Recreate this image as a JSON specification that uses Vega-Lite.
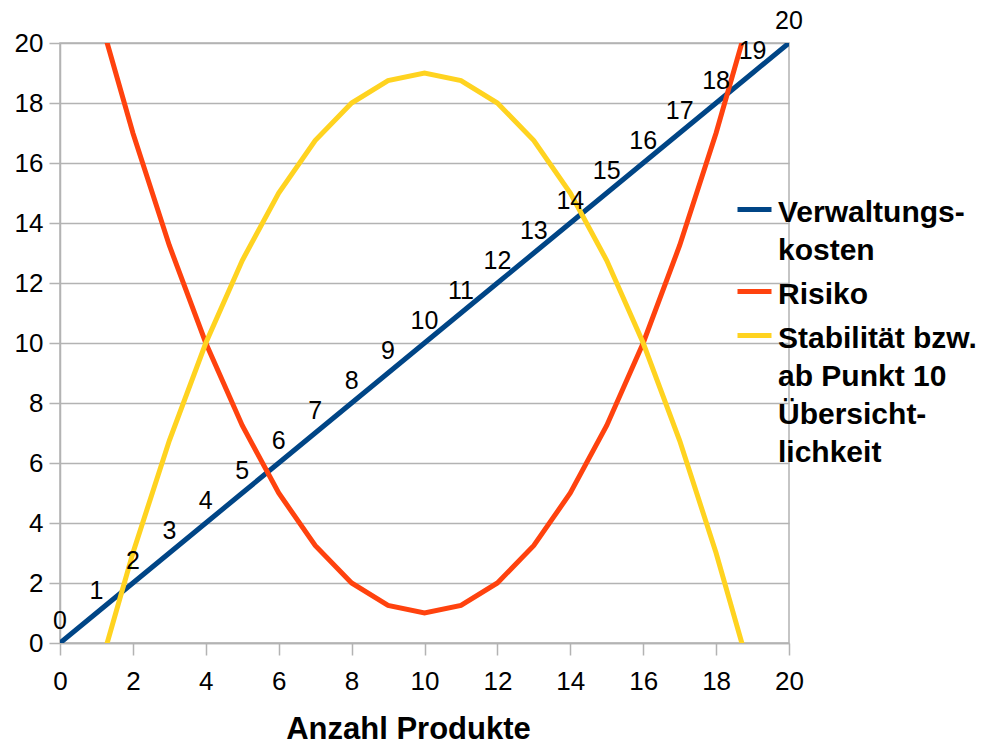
{
  "$schema": "https://vega.github.io/schema/vega-lite/v6.json",
  "width": 729,
  "height": 600,
  "autosize": {"type": "none"},
  "padding": {"left": 60, "top": 43, "right": 211, "bottom": 103},
  "background": "white",
  "config": {
    "font": "Liberation Sans",
    "view": {"stroke": "#b3b3b3", "strokeWidth": 1.5},
    "style": {"guide-label": {"lineHeight": 38}}
  },
  "data": {
    "values": [
      {"x": 0, "y": 0, "s": "Verwaltungs-|kosten"},
      {"x": 1, "y": 1, "s": "Verwaltungs-|kosten"},
      {"x": 2, "y": 2, "s": "Verwaltungs-|kosten"},
      {"x": 3, "y": 3, "s": "Verwaltungs-|kosten"},
      {"x": 4, "y": 4, "s": "Verwaltungs-|kosten"},
      {"x": 5, "y": 5, "s": "Verwaltungs-|kosten"},
      {"x": 6, "y": 6, "s": "Verwaltungs-|kosten"},
      {"x": 7, "y": 7, "s": "Verwaltungs-|kosten"},
      {"x": 8, "y": 8, "s": "Verwaltungs-|kosten"},
      {"x": 9, "y": 9, "s": "Verwaltungs-|kosten"},
      {"x": 10, "y": 10, "s": "Verwaltungs-|kosten"},
      {"x": 11, "y": 11, "s": "Verwaltungs-|kosten"},
      {"x": 12, "y": 12, "s": "Verwaltungs-|kosten"},
      {"x": 13, "y": 13, "s": "Verwaltungs-|kosten"},
      {"x": 14, "y": 14, "s": "Verwaltungs-|kosten"},
      {"x": 15, "y": 15, "s": "Verwaltungs-|kosten"},
      {"x": 16, "y": 16, "s": "Verwaltungs-|kosten"},
      {"x": 17, "y": 17, "s": "Verwaltungs-|kosten"},
      {"x": 18, "y": 18, "s": "Verwaltungs-|kosten"},
      {"x": 19, "y": 19, "s": "Verwaltungs-|kosten"},
      {"x": 20, "y": 20, "s": "Verwaltungs-|kosten"},
      {"x": 1, "y": 21.25, "s": "Risiko"},
      {"x": 2, "y": 17, "s": "Risiko"},
      {"x": 3, "y": 13.25, "s": "Risiko"},
      {"x": 4, "y": 10, "s": "Risiko"},
      {"x": 5, "y": 7.25, "s": "Risiko"},
      {"x": 6, "y": 5, "s": "Risiko"},
      {"x": 7, "y": 3.25, "s": "Risiko"},
      {"x": 8, "y": 2, "s": "Risiko"},
      {"x": 9, "y": 1.25, "s": "Risiko"},
      {"x": 10, "y": 1, "s": "Risiko"},
      {"x": 11, "y": 1.25, "s": "Risiko"},
      {"x": 12, "y": 2, "s": "Risiko"},
      {"x": 13, "y": 3.25, "s": "Risiko"},
      {"x": 14, "y": 5, "s": "Risiko"},
      {"x": 15, "y": 7.25, "s": "Risiko"},
      {"x": 16, "y": 10, "s": "Risiko"},
      {"x": 17, "y": 13.25, "s": "Risiko"},
      {"x": 18, "y": 17, "s": "Risiko"},
      {"x": 19, "y": 21.25, "s": "Risiko"},
      {"x": 1, "y": -1.25, "s": "Stabilität bzw.|ab Punkt 10|Übersicht-|lichkeit"},
      {"x": 2, "y": 3, "s": "Stabilität bzw.|ab Punkt 10|Übersicht-|lichkeit"},
      {"x": 3, "y": 6.75, "s": "Stabilität bzw.|ab Punkt 10|Übersicht-|lichkeit"},
      {"x": 4, "y": 10, "s": "Stabilität bzw.|ab Punkt 10|Übersicht-|lichkeit"},
      {"x": 5, "y": 12.75, "s": "Stabilität bzw.|ab Punkt 10|Übersicht-|lichkeit"},
      {"x": 6, "y": 15, "s": "Stabilität bzw.|ab Punkt 10|Übersicht-|lichkeit"},
      {"x": 7, "y": 16.75, "s": "Stabilität bzw.|ab Punkt 10|Übersicht-|lichkeit"},
      {"x": 8, "y": 18, "s": "Stabilität bzw.|ab Punkt 10|Übersicht-|lichkeit"},
      {"x": 9, "y": 18.75, "s": "Stabilität bzw.|ab Punkt 10|Übersicht-|lichkeit"},
      {"x": 10, "y": 19, "s": "Stabilität bzw.|ab Punkt 10|Übersicht-|lichkeit"},
      {"x": 11, "y": 18.75, "s": "Stabilität bzw.|ab Punkt 10|Übersicht-|lichkeit"},
      {"x": 12, "y": 18, "s": "Stabilität bzw.|ab Punkt 10|Übersicht-|lichkeit"},
      {"x": 13, "y": 16.75, "s": "Stabilität bzw.|ab Punkt 10|Übersicht-|lichkeit"},
      {"x": 14, "y": 15, "s": "Stabilität bzw.|ab Punkt 10|Übersicht-|lichkeit"},
      {"x": 15, "y": 12.75, "s": "Stabilität bzw.|ab Punkt 10|Übersicht-|lichkeit"},
      {"x": 16, "y": 10, "s": "Stabilität bzw.|ab Punkt 10|Übersicht-|lichkeit"},
      {"x": 17, "y": 6.75, "s": "Stabilität bzw.|ab Punkt 10|Übersicht-|lichkeit"},
      {"x": 18, "y": 3, "s": "Stabilität bzw.|ab Punkt 10|Übersicht-|lichkeit"},
      {"x": 19, "y": -1.25, "s": "Stabilität bzw.|ab Punkt 10|Übersicht-|lichkeit"}
    ]
  },
  "encoding": {
    "x": {
      "field": "x", "type": "quantitative",
      "scale": {"domain": [0, 20], "nice": false, "zero": false},
      "axis": {
        "values": [0, 2, 4, 6, 8, 10, 12, 14, 16, 18, 20],
        "title": "Anzahl Produkte",
        "titleFont": "Liberation Sans", "titleFontSize": 31, "titleFontWeight": "bold", "titleColor": "black",
        "titlePadding": 20, "titleX": 348,
        "labelFontSize": 26, "labelColor": "black", "labelPadding": 13, "labelFlush": false,
        "tickSize": 12, "tickColor": "#b3b3b3", "tickWidth": 1.5,
        "domainColor": "#b3b3b3", "domainWidth": 1.5,
        "grid": false
      }
    },
    "y": {
      "field": "y", "type": "quantitative",
      "scale": {"domain": [0, 20], "nice": false, "zero": false},
      "axis": {
        "values": [0, 2, 4, 6, 8, 10, 12, 14, 16, 18, 20],
        "title": null,
        "labelFontSize": 26, "labelColor": "black", "labelPadding": 6,
        "tickSize": 11, "tickColor": "#b3b3b3", "tickWidth": 1.5,
        "domainColor": "#b3b3b3", "domainWidth": 1.5,
        "grid": true, "gridColor": "#b3b3b3", "gridWidth": 1.5
      }
    }
  },
  "layer": [
    {
      "mark": {"type": "line", "strokeWidth": 5, "clip": true},
      "encoding": {
        "color": {
          "field": "s", "type": "nominal",
          "scale": {
            "domain": ["Verwaltungs-|kosten", "Risiko", "Stabilität bzw.|ab Punkt 10|Übersicht-|lichkeit"],
            "range": ["#004586", "#ff420e", "#ffd320"]
          },
          "legend": {
            "title": null,
            "orient": "none", "legendX": 675, "legendY": 147,
            "symbolType": "stroke", "symbolStrokeWidth": 5, "symbolSize": 1156,
            "labelExpr": "split(datum.label, '|')",
            "labelFont": "Liberation Sans", "labelFontSize": 30, "labelFontWeight": "bold",
            "labelColor": "black", "labelLimit": 0, "labelOffset": 4,
            "labelBaseline": "top", "rowPadding": 6,
            "encoding": {"labels": {"dy": {"value": -12}}}
          }
        },
        "order": {"field": "x"}
      }
    },
    {
      "transform": [{"filter": "datum.s == 'Verwaltungs-|kosten'"}],
      "mark": {"type": "text", "fontSize": 25, "dy": -22, "color": "black"},
      "encoding": {"text": {"field": "x", "type": "quantitative"}}
    }
  ]
}
